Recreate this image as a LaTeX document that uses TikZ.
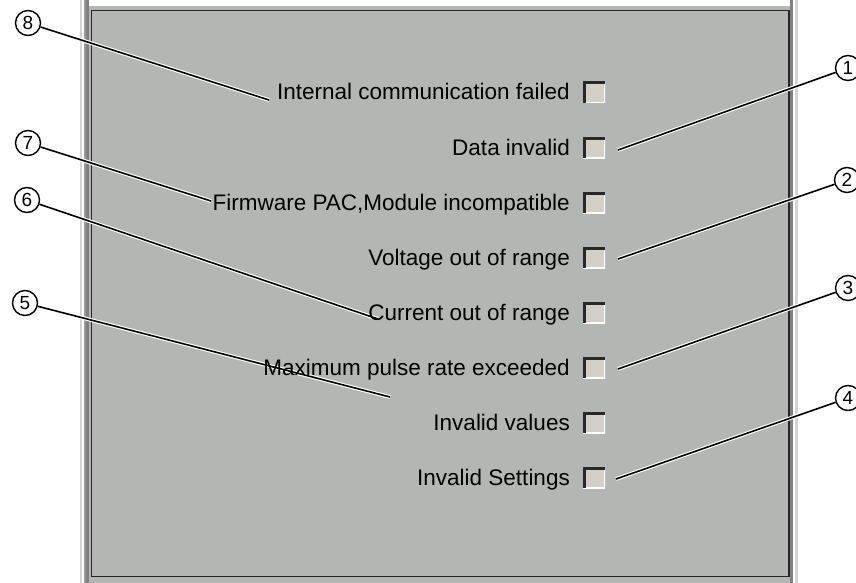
\documentclass[tikz,border=0pt]{standalone}
\usepackage{fontspec}
\setmainfont{Liberation Sans}
\usepackage{tikz}
\usetikzlibrary{calc}
\definecolor{panelgray}{RGB}{180,182,180}
\definecolor{boxfill}{RGB}{212,208,200}
\definecolor{boxdark}{RGB}{40,40,40}
\definecolor{edgedark}{RGB}{128,128,128}
\definecolor{edgelight}{RGB}{212,212,212}
\pgfdeclarelayer{bg}
\pgfdeclarelayer{mid}
\pgfsetlayers{bg,mid,main}

\begin{document}
\begin{tikzpicture}[x=1pt, y=-1pt,
    lbl/.style={anchor=base east, inner sep=0pt, font=\fontsize{22.5}{27}\selectfont},
    chkbox/.style={minimum width=22pt, minimum height=21pt, inner sep=0pt, fill=boxfill,
        path picture={
            \draw[white, line width=2.5pt] (path picture bounding box.south west) -- (path picture bounding box.south east) -- (path picture bounding box.north east);
            \draw[boxdark, line width=5pt] (path picture bounding box.south west) -- (path picture bounding box.north west) -- (path picture bounding box.north east);
        }},
    callout/.style={circle, draw, line width=1.4pt, minimum size=25pt, inner sep=0pt, fill=white,
        font=\fontsize{19}{21}\selectfont},
    leader/.style={black, line width=1.6pt, preaction={draw=white, line width=3.8pt}}]
    \useasboundingbox (0,0) rectangle (856,583);

    % Panel frame
    \begin{pgfonlayer}{bg}
    \fill[edgelight] (80,0) rectangle (82,583);
    \fill[white] (82,0) rectangle (84,583);
    \fill[edgedark!80] (84,0) rectangle (86,583);
    \fill[edgedark] (86,0) rectangle (89,583);
    \fill[panelgray] (89,6) rectangle (790,583);
    \fill[edgedark] (790,0) rectangle (793,583);
    \fill[white] (793,0) rectangle (795,583);
    \fill[edgelight] (795,0) rectangle (798,583);
    \draw[line width=1.8pt, black!85] (91.5,10.5) rectangle (789,576.5);
    \end{pgfonlayer}

    % Rows: text and check box
    \node[lbl] (t1) at (570,100) {Internal communication failed};
    \node[chkbox] (b1) at (594,92.5) {};
    \node[lbl] (t2) at (570,155) {Data invalid};
    \node[chkbox] (b2) at (594,147.5) {};
    \node[lbl] (t3) at (570,210) {Firmware PAC,Module incompatible};
    \node[chkbox] (b3) at (594,202.5) {};
    \node[lbl] (t4) at (570,265) {Voltage out of range};
    \node[chkbox] (b4) at (594,257.5) {};
    \node[lbl] (t5) at (570,320) {Current out of range};
    \node[chkbox] (b5) at (594,312.5) {};
    \node[lbl] (t6) at (570,375) {Maximum pulse rate exceeded};
    \node[chkbox] (b6) at (594,367.5) {};
    \node[lbl] (t7) at (570,430) {Invalid values};
    \node[chkbox] (b7) at (594,422.5) {};
    \node[lbl] (t8) at (570,485) {Invalid Settings};
    \node[chkbox] (b8) at (594,477.5) {};

    % Callouts
    \node[callout] (n1) at (848,68) {1};
    \node[callout] (n2) at (847,180) {2};
    \node[callout] (n3) at (848,288) {3};
    \node[callout] (n4) at (848,398) {4};
    \node[callout] (n5) at (25,303) {5};
    \node[callout] (n6) at (27,200) {6};
    \node[callout] (n7) at (28,143) {7};
    \node[callout] (n8) at (28,23) {8};

    % Leader ends
    \coordinate (p1) at (618,150);
    \coordinate (p2) at (618,259);
    \coordinate (p3) at (618,369);
    \coordinate (p4) at (616,479);
    \coordinate (p5) at (390,397);
    \coordinate (p6) at (378,319);
    \coordinate (p7) at (211,201);
    \coordinate (p8) at (269,100);

    % leaders go under the texts
    \begin{pgfonlayer}{mid}
    \foreach \i in {1,...,8}
        \draw[leader] (n\i) -- (p\i);
    \end{pgfonlayer}
\end{tikzpicture}
\end{document}
